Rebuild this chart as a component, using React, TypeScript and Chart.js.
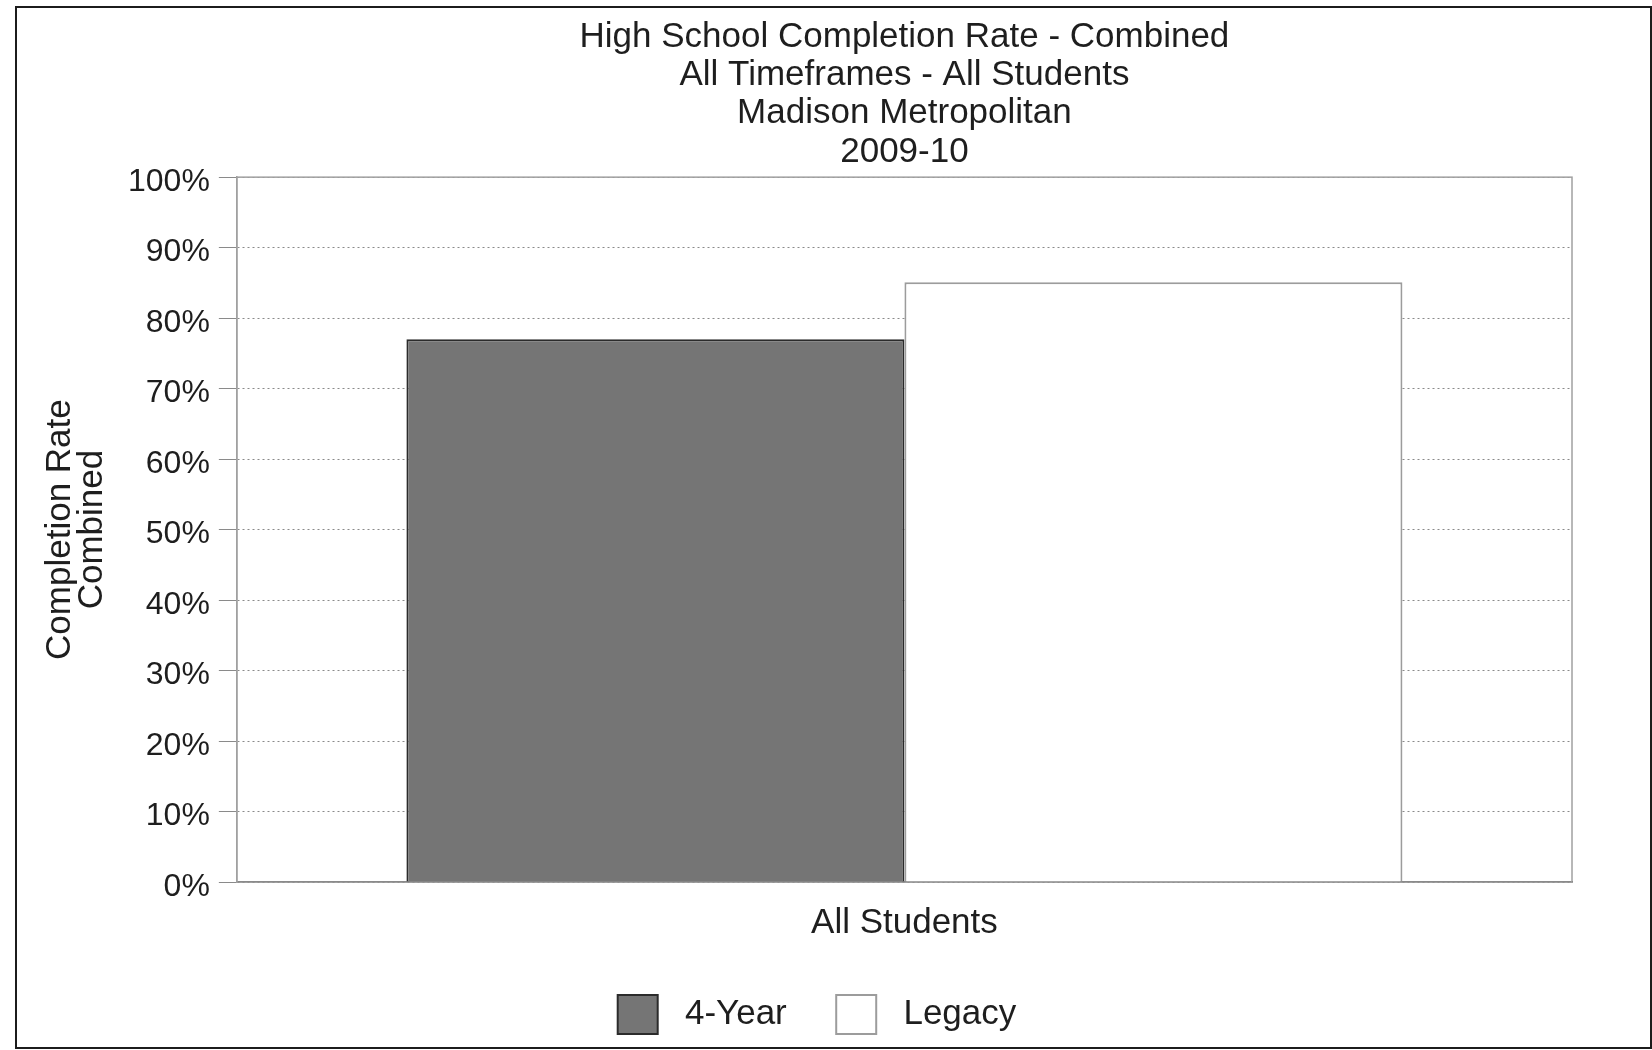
import { useEffect, useRef } from "react";
import { Chart, registerables } from "chart.js";

Chart.register(...registerables);

// Chart content
const titleLines = [
  "High School Completion Rate - Combined",
  "All Timeframes - All Students",
  "Madison Metropolitan",
  "2009-10",
];
const categories = ["All Students"];
const seriesNames = ["4-Year", "Legacy"];
const fourYearRates = [77.0];
const legacyRates = [85.1];
const yAxisTitle = ["Completion Rate", "Combined"];
const yMin = 0;
const yMax = 100;
const yStep = 10;

const FONT = "'Liberation Sans', Arial, sans-serif";
const TEXT = "#1e1e1e";

// Thin frame around the plotting area (top and right edges have no axis of their own)
const plotFrame = {
  id: "plotFrame",
  afterLayout(chart: any) {
    // centre the title over the plotting area, and nudge the legend right
    const a = chart.chartArea;
    if (chart.titleBlock) {
      chart.titleBlock.left = a.left;
      chart.titleBlock.right = a.right;
    }
    if (chart.legend) {
      chart.legend.left += 62;
    }
  },
  beforeDatasetsDraw(chart: any) {
    const { ctx, chartArea: a } = chart;
    ctx.save();
    ctx.strokeStyle = "#a0a0a0";
    ctx.lineWidth = 1.5;
    ctx.strokeRect(a.left, a.top, a.right - a.left, a.bottom - a.top);
    ctx.restore();
  },
};

export default function App() {
  const canvasRef = useRef<HTMLCanvasElement | null>(null);

  useEffect(() => {
    const canvas = canvasRef.current;
    if (!canvas) return;
    const chart = new Chart(canvas, {
      type: "bar",
      data: {
        labels: categories,
        datasets: [
          {
            label: seriesNames[0],
            data: fourYearRates,
            backgroundColor: "#757575",
            borderColor: "#2b2b2b",
            borderWidth: 2,
          },
          {
            label: seriesNames[1],
            data: legacyRates,
            backgroundColor: "#ffffff",
            borderColor: "#9c9c9c",
            borderWidth: 2,
          },
        ],
      },
      options: {
        responsive: false,
        animation: false,
        devicePixelRatio: 1,
        layout: { padding: { left: 0, right: 80, top: 0, bottom: 6 } },
        datasets: {
          bar: { categoryPercentage: 0.746, barPercentage: 1.0 },
        },
        plugins: {
          tooltip: { enabled: false },
          title: {
            display: true,
            text: titleLines,
            color: TEXT,
            font: { family: FONT, size: 35, weight: "normal", lineHeight: 1.094 },
            padding: { top: 18, bottom: 6 },
          },
          legend: {
            display: true,
            position: "bottom",
            labels: {
              boxWidth: 40,
              boxHeight: 39,
              padding: 30,
              color: TEXT,
              font: { family: FONT, size: 35 },
              generateLabels: (c: any) => {
                const items = Chart.defaults.plugins.legend.labels.generateLabels(c);
                return items.map((l: any, i: number) => ({
                  ...l,
                  text: " " + l.text + (i < items.length - 1 ? "  " : ""),
                }));
              },
            },
          },
        },
        scales: {
          x: {
            grid: { display: false, drawTicks: false },
            border: { display: true, color: "#4a4a4a", width: 1.5 },
            ticks: {
              color: TEXT,
              font: { family: FONT, size: 35, lineHeight: 1.0 },
              padding: 24,
            },
          },
          y: {
            min: yMin,
            max: yMax,
            ticks: {
              stepSize: yStep,
              color: TEXT,
              font: { family: FONT, size: 32 },
              padding: 9,
              labelOffset: 5,
              callback: (v: any) => `${v}%`,
            },
            grid: {
              color: "#8a8a8a",
              lineWidth: 1,
              drawTicks: true,
              tickLength: 18,
            },
            border: { display: true, color: "#a0a0a0", width: 1.5, dash: [2, 3] },
            title: {
              display: true,
              text: yAxisTitle,
              color: TEXT,
              font: { family: FONT, size: 35, lineHeight: 0.9 },
              padding: { top: 45, bottom: 11 },
            },
          },
        },
      },
      plugins: [plotFrame],
    });
    return () => chart.destroy();
  }, []);

  return (
    <div style={{ position: "absolute", left: 0, top: 0, width: 1652, height: 1050, background: "#ffffff" }}>
      <canvas ref={canvasRef} width={1652} height={1050} style={{ display: "block", width: 1652, height: 1050 }} />
      <div
        style={{
          position: "absolute",
          left: 15,
          top: 6,
          width: 1633,
          height: 1039,
          border: "2px solid #1c1c1c",
          pointerEvents: "none",
        }}
      />
    </div>
  );
}
